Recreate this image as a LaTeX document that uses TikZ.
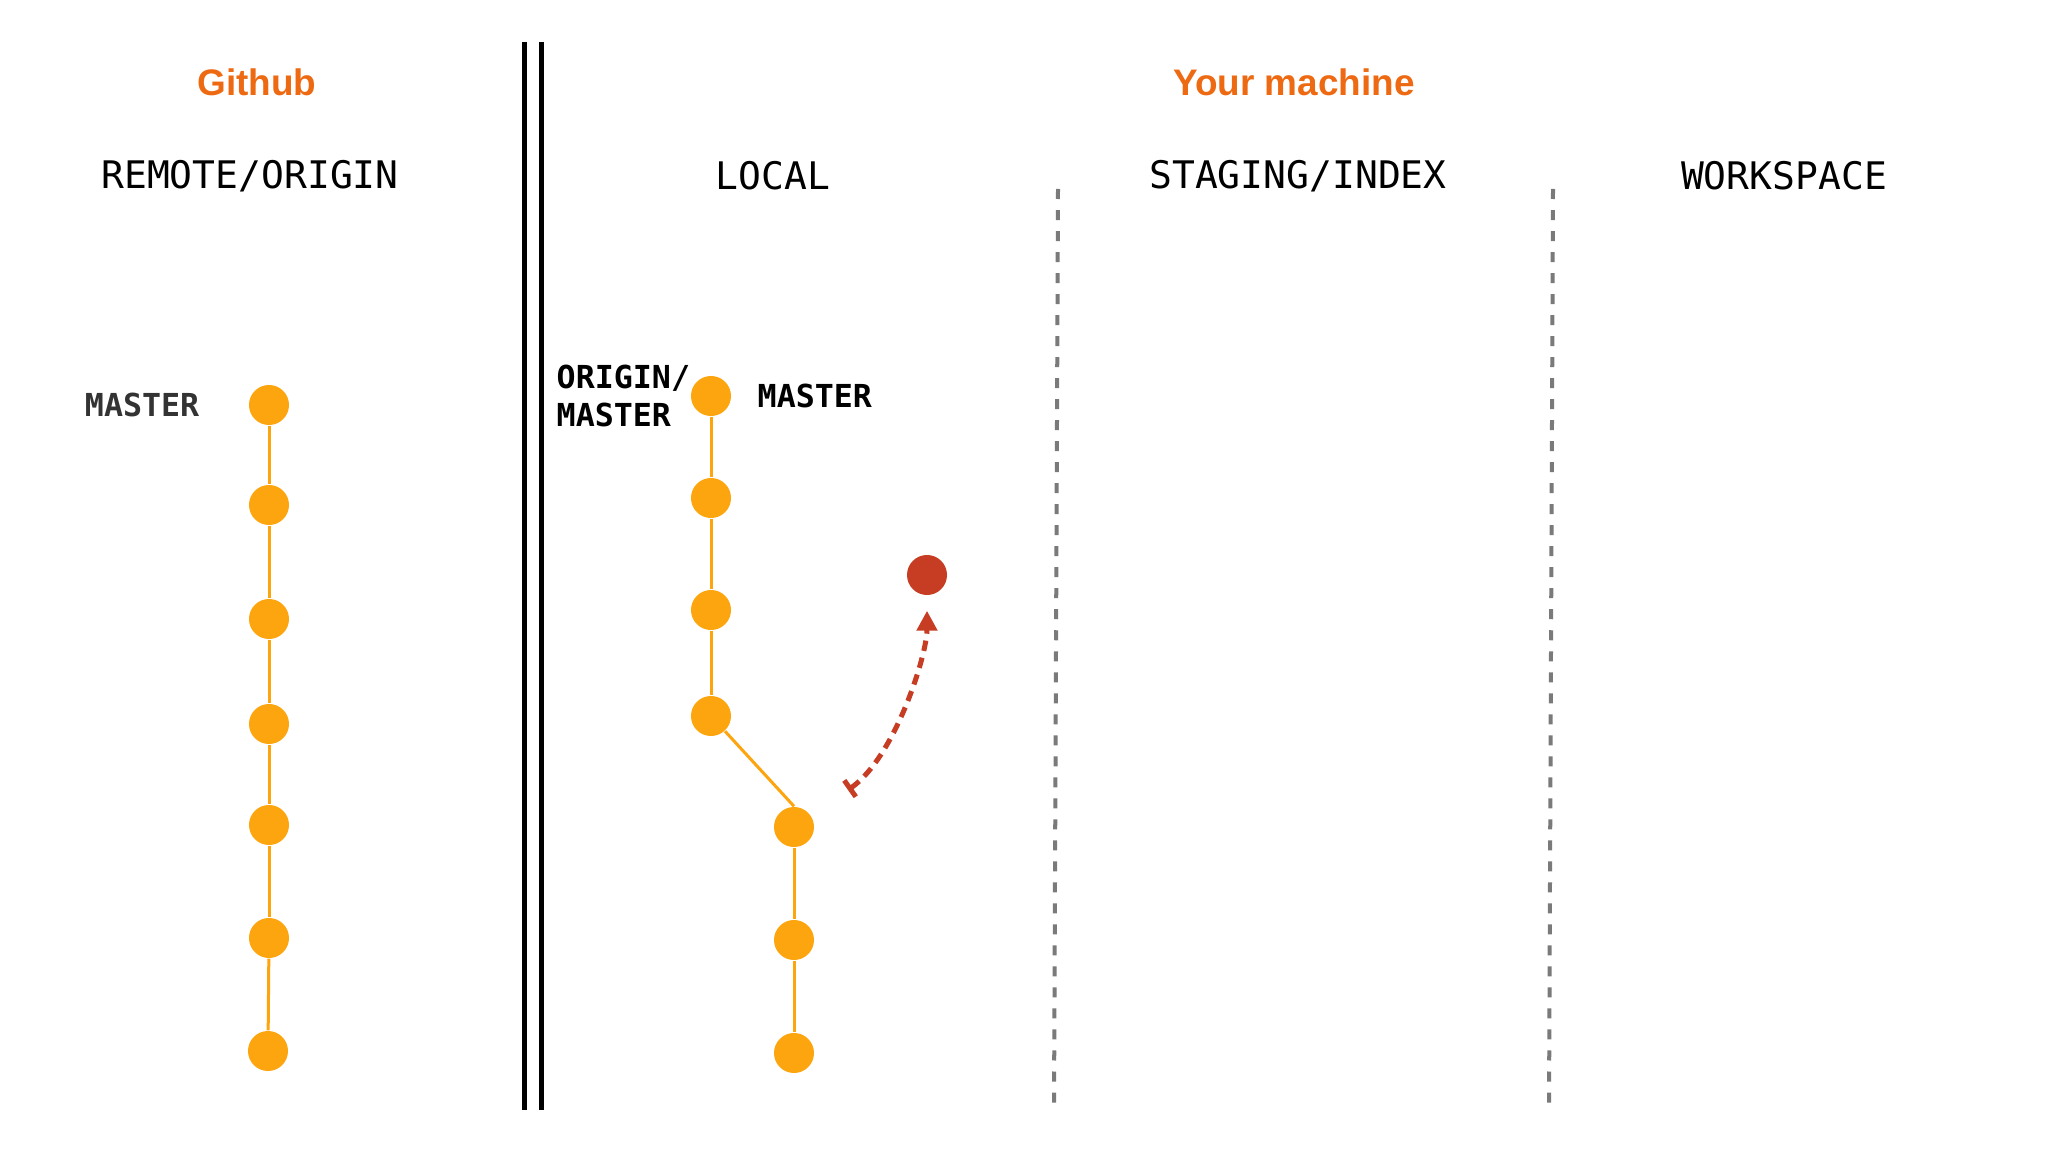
\documentclass[tikz,border=0pt]{standalone}
\usepackage{fontspec}
\setmainfont{Liberation Sans}
\setmonofont{DejaVu Sans Mono}
\usetikzlibrary{arrows.meta}
\definecolor{titleorange}{HTML}{EE6A12}
\definecolor{dotorange}{HTML}{FDA50F}
\definecolor{newred}{HTML}{C63D23}
\definecolor{sepgray}{HTML}{7A7A7A}
\tikzstyle{title}=[font=\fontsize{10.5}{12}\selectfont\bfseries,text=titleorange]
\tikzstyle{area}=[font=\fontsize{10.8}{12}\selectfont\ttfamily]
\tikzstyle{ref}=[font=\fontsize{9}{10.8}\selectfont\ttfamily\bfseries,align=left,inner sep=0pt]
\tikzstyle{commit}=[circle,fill=dotorange,minimum size=4mm,inner sep=0pt]
\tikzstyle{newcommit}=[commit,fill=newred]
\tikzstyle{link}=[draw=dotorange,line width=0.3mm]
\tikzstyle{wall}=[line width=0.5mm]
\tikzstyle{sep}=[draw=sepgray,line width=0.4mm,dash pattern=on 1mm off 1.1mm]
\tikzstyle{reset}=[draw=newred,line width=0.5mm,dash pattern=on 1.05mm off 0.7mm,
                shorten >=1.5mm,{Bar[width=2mm,line width=0.5mm]}-{Triangle[length=2mm,width=2mm]}]

\begin{document}
\begin{tikzpicture}[x=0.01cm,y=-0.01cm]
\useasboundingbox (0,0) rectangle (2048,1152);
\node[title] (github) at (257,82) {Github};
\node[title] (machine) at (1294,82) {Your machine};
\node[area] (remote) at (250,176) {REMOTE/ORIGIN};
\node[area] (local) at (773,176) {LOCAL};
\node[area] (staging) at (1298,176) {STAGING/INDEX};
\node[area] (workspace) at (1784,176) {WORKSPACE};
\draw[wall] (524,42) -- (524,1110) (541,42) -- (541,1110);
\draw[sep] (1058,189) -- (1054,1110);
\draw[sep] (1553,189) -- (1549,1110);
% remote
\foreach \i/\x/\y in {1/269/405,2/269/505,3/269/619,4/269/724,5/269/825,6/269/938,7/268/1051}
  \node[commit] (r\i) at (\x,\y) {};
\foreach \i [evaluate=\i as \j using int(\i+1)] in {1,...,6}
  \draw[link] (r\i) -- (r\j);
\node[ref,text=black!80,anchor=east] (rmaster) at (200,405) {MASTER};
% local
\foreach \i/\x/\y in {1/711/396,2/711/498,3/711/610,4/711/716,5/794/827,6/794/940,7/794/1053}
  \node[commit] (l\i) at (\x,\y) {};
\foreach \i [evaluate=\i as \j using int(\i+1)] in {1,2,3,5,6}
  \draw[link] (l\i) -- (l\j);
\draw[link] (l4) -- (l5.north);
\node[ref,anchor=west] (origin) at (556,396) {ORIGIN/\\MASTER};
\node[ref,anchor=west] (lmaster) at (757,396) {MASTER};
\node[newcommit] (new) at (927,575) {};
\coordinate (back) at (848,790);
\draw[reset] (back) .. controls +(47,-33) and +(0,80) .. (new);
\end{tikzpicture}
\end{document}
